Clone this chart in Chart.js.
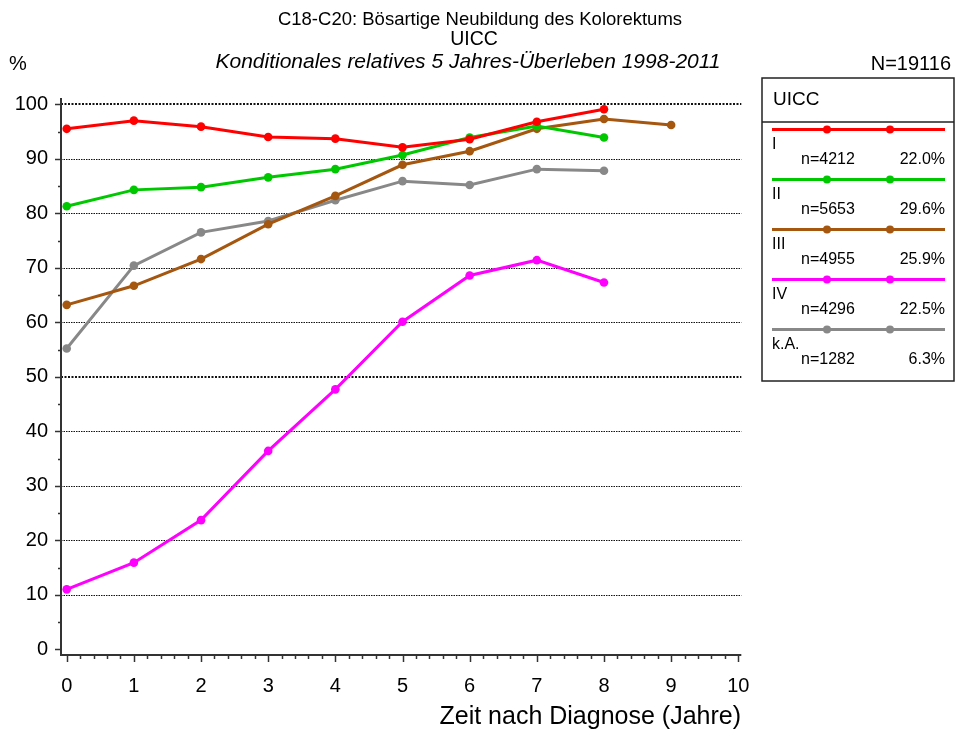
<!DOCTYPE html>
<html>
<head>
<meta charset="utf-8">
<script src="https://cdn.jsdelivr.net/npm/chart.js@4.4.1/dist/chart.umd.min.js"></script>
<style>
  html, body { margin: 0; padding: 0; background: #fff; }
</style>
</head>
<body>
<canvas id="chart" width="956" height="732"></canvas>
<script>
// Jahre nach Diagnose
var years = [0, 1, 2, 3, 4, 5, 6, 7, 8, 9];

// konditionales relatives 5-Jahres-Ueberleben in %
var stageI   = [95.5, 97.0, 95.9, 94.0, 93.7, 92.1, 93.6, 96.8, 99.1];
var stageII  = [81.3, 84.3, 84.8, 86.6, 88.1, 90.7, 93.9, 96.0, 93.9];
var stageIII = [63.2, 66.7, 71.6, 78.0, 83.2, 88.9, 91.4, 95.5, 97.3, 96.2];
var stageIV  = [11.0, 15.9, 23.7, 36.4, 47.7, 60.1, 68.6, 71.4, 67.3];
var stageKA  = [55.2, 70.4, 76.5, 78.6, 82.4, 85.9, 85.2, 88.1, 87.8];

var stageNames  = ["I", "II", "III", "IV", "k.A."];
var stageCounts = [4212, 5653, 4955, 4296, 1282];
var stageShares = ["22.0%", "29.6%", "25.9%", "22.5%", "6.3%"];
var stageColors = ["#ff0000", "#00c800", "#a5560f", "#ff00ff", "#888888"];

var yTicks = [0, 10, 20, 30, 40, 50, 60, 70, 80, 90, 100];
var xTicks = [0, 1, 2, 3, 4, 5, 6, 7, 8, 9, 10];

var titleLines = [
    'C18-C20: Bösartige Neubildung des Kolorektums',
    'UICC',
    'Konditionales relatives 5 Jahres-Überleben 1998-2011'
];

var FONT = "'Liberation Sans', Arial, Helvetica, sans-serif";

function toPoints(values) {
    return values.map(function (v, i) {
        return {x: years[i], y: v};
    });
}

var allSeries = [stageI, stageII, stageIII, stageIV, stageKA];

var datasets = allSeries.map(function (values, i) {
    return {
        label: stageNames[i],
        data: toPoints(values),
        borderColor: stageColors[i],
        backgroundColor: stageColors[i],
        pointBackgroundColor: stageColors[i],
        borderWidth: 3,
        pointRadius: 4.3,
        pointBorderWidth: 0,
        tension: 0
    };
});

// gitter, achsen und striche
var axesPlugin = {
    id: 'axesPlugin',
    beforeDatasetsDraw: function (chart) {
        var ctx = chart.ctx;
        var xs = chart.scales.x;
        var ys = chart.scales.y;
        var area = chart.chartArea;
        var left = area.left, bottom = area.bottom;
        var xEnd = xs.getPixelForValue(10) + 3;

        ctx.save();
        // gepunktete linien
        yTicks.forEach(function (v) {
            if (v === 0) return;
            var py = Math.round(ys.getPixelForValue(v));
            var thick = (v === 100 || v === 50);
            ctx.beginPath();
            ctx.lineWidth = thick ? 2 : 1;
            ctx.setLineDash(thick ? [2, 1.5] : [1.5, 1]);
            ctx.strokeStyle = '#111';
            ctx.moveTo(left, py + (thick ? 0 : 0.5));
            ctx.lineTo(xEnd, py + (thick ? 0 : 0.5));
            ctx.stroke();
        });
        ctx.setLineDash([]);

        // achsen
        ctx.strokeStyle = '#333';
        ctx.lineWidth = 2;
        ctx.beginPath();
        ctx.moveTo(left, area.top - 2);
        ctx.lineTo(left, bottom);
        ctx.lineTo(xEnd, bottom);
        ctx.stroke();

        // y striche
        ctx.lineWidth = 1.5;
        for (var v = 0; v <= 100; v += 5) {
            var py = Math.round(ys.getPixelForValue(v)) + 0.5;
            var len = (v % 10 === 0) ? 6 : 3;
            ctx.beginPath();
            ctx.moveTo(left - len, py);
            ctx.lineTo(left, py);
            ctx.stroke();
        }
        // x striche
        for (var k = 0; k <= 50; k++) {
            var px = Math.round(xs.getPixelForValue(k / 5)) + 0.5;
            var len2 = (k % 5 === 0) ? 7 : 4;
            ctx.beginPath();
            ctx.moveTo(px, bottom);
            ctx.lineTo(px, bottom + len2);
            ctx.stroke();
        }
        ctx.restore();
    }
};

// titel, legende und zusaetzliche texte
var legendPlugin = {
    id: 'legendPlugin',
    afterDraw: function (chart) {
        var ctx = chart.ctx;
        ctx.save();
        ctx.fillStyle = '#000';
        ctx.textBaseline = 'middle';

        ctx.textAlign = 'center';
        ctx.font = '18.5px ' + FONT;
        ctx.fillText(titleLines[0], 480, 20);
        ctx.font = '19.5px ' + FONT;
        ctx.fillText(titleLines[1], 474, 40);
        ctx.font = 'italic 21px ' + FONT;
        ctx.fillText(titleLines[2], 468, 62);

        ctx.font = '20px ' + FONT;
        ctx.textAlign = 'left';
        ctx.fillText('%', 9, 64);
        ctx.textAlign = 'right';
        ctx.fillText('N=19116', 951, 64);

        var bx = 762, by = 78, bw = 192, bh = 303;
        ctx.strokeStyle = '#222';
        ctx.lineWidth = 1.5;
        ctx.strokeRect(bx, by, bw, bh);
        ctx.beginPath();
        ctx.moveTo(bx, 122);
        ctx.lineTo(bx + bw, 122);
        ctx.stroke();

        ctx.textAlign = 'left';
        ctx.font = '19px ' + FONT;
        ctx.fillText('UICC', 773, 100);

        stageNames.forEach(function (name, i) {
            var ly = 129.5 + 50 * i;
            ctx.strokeStyle = stageColors[i];
            ctx.lineWidth = 3;
            ctx.beginPath();
            ctx.moveTo(772, ly);
            ctx.lineTo(945, ly);
            ctx.stroke();
            ctx.fillStyle = stageColors[i];
            [827, 890].forEach(function (mx) {
                ctx.beginPath();
                ctx.arc(mx, ly, 4, 0, Math.PI * 2);
                ctx.fill();
            });
            ctx.fillStyle = '#000';
            ctx.textAlign = 'left';
            ctx.font = '16px ' + FONT;
            ctx.fillText(name, 772, ly + 15);
            ctx.fillText('n=' + stageCounts[i], 801, ly + 30);
            ctx.textAlign = 'right';
            ctx.fillText(stageShares[i], 945, ly + 30);
        });
        ctx.restore();
    }
};

new Chart(document.getElementById('chart'), {
    type: 'line',
    data: {datasets: datasets},
    plugins: [axesPlugin, legendPlugin],
    options: {
        responsive: false,
        devicePixelRatio: 1,
        animation: false,
        layout: {padding: {left: 0, right: 215, top: 100, bottom: 0}},
        plugins: {
            legend: {display: false},
            tooltip: {enabled: false},
            title: {display: false},
            subtitle: {display: false}
        },
        scales: {
            x: {
                type: 'linear',
                min: -0.085,
                max: 10.04,
                afterBuildTicks: function (scale) {
                    scale.ticks = xTicks.map(function (v) { return {value: v}; });
                },
                afterFit: function (scale) { scale.height = 77; },
                grid: {display: false, drawTicks: false},
                border: {display: false},
                ticks: {
                    color: '#000',
                    font: {family: FONT, size: 20},
                    padding: 19,
                    maxRotation: 0
                },
                title: {
                    display: true,
                    text: 'Zeit nach Diagnose (Jahre)',
                    align: 'end',
                    color: '#000',
                    font: {family: FONT, size: 25},
                    padding: {top: 0, bottom: 0}
                }
            },
            y: {
                type: 'linear',
                min: -1.046,
                max: 100.79,
                afterBuildTicks: function (scale) {
                    scale.ticks = yTicks.map(function (v) { return {value: v}; });
                },
                afterFit: function (scale) { scale.width = 61; },
                grid: {display: false, drawTicks: false},
                border: {display: false},
                ticks: {
                    color: '#000',
                    font: {family: FONT, size: 20},
                    padding: 13
                }
            }
        }
    }
});
</script>
</body>
</html>
